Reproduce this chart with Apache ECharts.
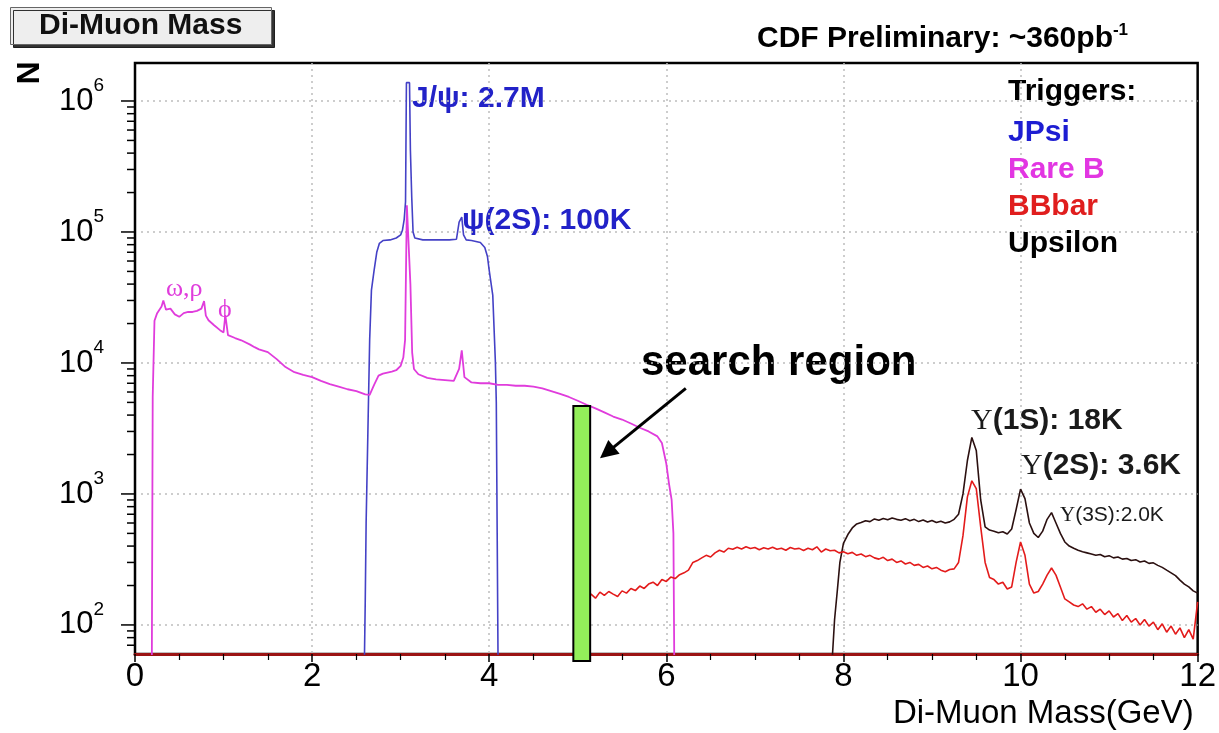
<!DOCTYPE html>
<html>
<head>
<meta charset="utf-8">
<script src="https://cdn.jsdelivr.net/npm/echarts@6/dist/echarts.min.js"></script>
<style>
html,body{margin:0;padding:0;background:#fff;}
#chart{width:1219px;height:733px;}
</style>
</head>
<body>
<div id="chart"></div>
<script>
// ---- data (mass in GeV, counts per bin) ----
var rareB = [[0.19,50],[0.20,5500],[0.21,5500],[0.22,21000],[0.25,24000],[0.30,27000],[0.32,30000],[0.35,25500],[0.40,26000],[0.45,23500],[0.50,22500],[0.55,24000],[0.60,24500],[0.65,24500],[0.70,25000],[0.75,26000],[0.78,29700],[0.80,23000],[0.83,21200],[0.89,19500],[0.96,17800],[1.00,17100],[1.02,23200],[1.05,16300],[1.13,15500],[1.20,14900],[1.30,13800],[1.35,13200],[1.40,12700],[1.50,12100],[1.60,10700],[1.70,9300],[1.80,8500],[1.90,8100],[2.00,7800],[2.10,7300],[2.20,6900],[2.30,6600],[2.40,6300],[2.50,6100],[2.60,5750],[2.65,5700],[2.70,6800],[2.75,8000],[2.80,8300],[2.90,8600],[2.95,8800],[3.00,9500],[3.03,11000],[3.05,15000],[3.07,160000],[3.09,160000],[3.11,40000],[3.13,12000],[3.15,9000],[3.20,8200],[3.30,7700],[3.40,7500],[3.50,7400],[3.60,7300],[3.66,9000],[3.69,12500],[3.72,7800],[3.80,7100],[3.90,7000],[4.00,7000],[4.10,6800],[4.20,6800],[4.30,6700],[4.40,6700],[4.50,6600],[4.60,6400],[4.70,6100],[4.80,5800],[4.90,5500],[5.00,5150],[5.10,4800],[5.20,4500],[5.30,4200],[5.40,3900],[5.50,3700],[5.60,3450],[5.70,3200],[5.80,3000],[5.90,2750],[5.95,2450],[6.00,1700],[6.03,1200],[6.06,900],[6.08,500],[6.09,50]];

var jpsi = [[2.59,50],[2.60,150],[2.61,600],[2.63,3000],[2.65,15000],[2.67,36000],[2.70,51000],[2.73,70000],[2.76,82000],[2.80,86000],[2.88,87000],[2.95,90000],[3.00,95000],[3.02,103000],[3.04,125000],[3.055,170000],[3.065,1380000],[3.10,1380000],[3.11,420000],[3.125,185000],[3.14,100000],[3.16,90000],[3.25,87000],[3.40,87000],[3.55,87000],[3.63,88000],[3.66,119000],[3.69,130000],[3.71,95000],[3.74,87000],[3.80,86000],[3.90,83000],[3.95,76000],[3.98,65000],[4.00,51000],[4.04,33000],[4.07,10000],[4.08,5000],[4.09,500],[4.10,50]];

var bbbar = [[4.99,50],[5.00,160],[5.05,170],[5.10,158],[5.15,172],[5.20,160],[5.25,178],[5.30,168],[5.35,180],[5.40,172],[5.45,165],[5.50,182],[5.55,175],[5.60,190],[5.65,183],[5.70,198],[5.75,190],[5.80,205],[5.85,212],[5.90,200],[5.95,222],[6.00,215],[6.05,232],[6.10,226],[6.15,242],[6.20,250],[6.25,262],[6.30,300],[6.35,310],[6.40,325],[6.45,340],[6.50,330],[6.55,355],[6.60,372],[6.65,360],[6.70,385],[6.75,378],[6.80,392],[6.85,380],[6.90,395],[6.95,383],[7.00,390],[7.05,375],[7.10,388],[7.15,380],[7.20,392],[7.25,378],[7.30,385],[7.35,372],[7.40,390],[7.45,380],[7.50,384],[7.55,370],[7.60,385],[7.65,375],[7.70,395],[7.75,360],[7.80,380],[7.85,368],[7.90,372],[7.95,355],[8.00,362],[8.05,350],[8.10,358],[8.15,340],[8.20,348],[8.25,332],[8.30,340],[8.35,325],[8.40,318],[8.45,328],[8.50,310],[8.55,318],[8.60,300],[8.65,308],[8.70,292],[8.75,300],[8.80,285],[8.85,290],[8.90,275],[8.95,282],[9.00,268],[9.05,275],[9.10,262],[9.15,255],[9.20,265],[9.25,268],[9.30,300],[9.35,480],[9.40,950],[9.45,1260],[9.50,1100],[9.55,560],[9.60,300],[9.65,230],[9.70,222],[9.75,205],[9.80,212],[9.85,188],[9.90,195],[9.95,300],[10.00,430],[10.05,340],[10.10,205],[10.15,175],[10.20,180],[10.25,205],[10.30,240],[10.35,272],[10.40,240],[10.45,195],[10.50,158],[10.55,150],[10.60,142],[10.65,138],[10.70,145],[10.75,132],[10.80,138],[10.85,125],[10.90,132],[10.95,120],[11.00,128],[11.05,115],[11.10,122],[11.15,108],[11.20,118],[11.25,105],[11.30,112],[11.35,100],[11.40,110],[11.45,98],[11.50,105],[11.55,92],[11.60,102],[11.65,88],[11.70,98],[11.75,85],[11.80,95],[11.85,80],[11.90,92],[11.95,78],[12.00,150]];

var upsilon = [[7.87,50],[7.90,110],[7.93,180],[7.96,300],[8.00,420],[8.05,490],[8.10,550],[8.15,590],[8.20,605],[8.25,625],[8.30,615],[8.35,645],[8.40,630],[8.45,650],[8.50,635],[8.55,655],[8.60,640],[8.65,630],[8.70,648],[8.75,625],[8.80,640],[8.85,615],[8.90,632],[8.95,610],[9.00,628],[9.05,605],[9.10,620],[9.15,600],[9.20,612],[9.25,640],[9.30,700],[9.35,1000],[9.40,1800],[9.45,2700],[9.50,2150],[9.55,900],[9.60,560],[9.65,530],[9.70,520],[9.75,505],[9.80,515],[9.85,495],[9.90,540],[9.95,760],[10.00,1090],[10.05,920],[10.10,600],[10.15,500],[10.20,465],[10.25,520],[10.30,640],[10.35,720],[10.40,600],[10.45,500],[10.50,430],[10.55,400],[10.60,385],[10.65,372],[10.70,362],[10.75,355],[10.80,348],[10.85,340],[10.90,345],[10.95,332],[11.00,338],[11.05,325],[11.10,330],[11.15,318],[11.20,322],[11.25,310],[11.30,315],[11.35,302],[11.40,308],[11.45,295],[11.50,298],[11.55,285],[11.60,275],[11.65,262],[11.70,250],[11.75,238],[11.80,220],[11.85,205],[11.90,195],[11.95,182],[12.00,175]];

// search region band: [mass from, mass to, top count]
var searchRegion = [[4.95, 5.14, 4700]];
// arrow: from / to (mass, count)
var arrowFrom = [6.22, 6400];
var arrowTo = [5.33, 2070];

// axis definition
var xMin = 0, xMax = 12, xStep = 2;
var yMin = 60, yMax = 1.95e6;
var yMajorTicks = [100, 1000, 10000, 100000, 1000000];
var yMinorTicks = [70, 80, 90,
  200, 300, 400, 500, 600, 700, 800, 900,
  2000, 3000, 4000, 5000, 6000, 7000, 8000, 9000,
  20000, 30000, 40000, 50000, 60000, 70000, 80000, 90000,
  200000, 300000, 400000, 500000, 600000, 700000, 800000, 900000];

var FONT = '"Liberation Sans", Arial, Helvetica, sans-serif';
var SERIF = '"Liberation Serif", "Times New Roman", serif';

var chart = echarts.init(document.getElementById('chart'), null, {renderer: 'canvas'});

function tickSeries(name, ticks, len) {
  return {
    name: name, type: 'custom', silent: true, clip: false, z: 10,
    data: ticks.map(function (v) { return [xMin, v]; }),
    renderItem: function (params, api) {
      var p = api.coord([api.value(0), api.value(1)]);
      return {type: 'line', shape: {x1: p[0] - len, y1: p[1], x2: p[0], y2: p[1]},
        style: {stroke: '#000', lineWidth: 1.5}};
    }
  };
}

var dotted = {color: '#bdbdbd', type: [2, 4], width: 1.5};

var option = {
  animation: false,
  backgroundColor: '#ffffff',
  textStyle: {fontFamily: FONT},
  title: {
    text: 'Di-Muon Mass', left: 10, top: 7,
    padding: [2, 29],
    backgroundColor: '#eeeeee', borderColor: '#666', borderWidth: 1,
    shadowColor: 'rgba(0,0,0,0.8)', shadowOffsetX: 3, shadowOffsetY: 3, shadowBlur: 0,
    textStyle: {fontFamily: FONT, fontSize: 30, fontWeight: 'bold', color: '#111', lineHeight: 34}
  },
  legend: {
    orient: 'vertical', left: 998, top: 109,
    icon: 'none', itemWidth: 0, itemHeight: 0, itemGap: 0,
    selectedMode: false,
    textStyle: {fontFamily: FONT, fontSize: 30, fontWeight: 'bold', lineHeight: 37},
    data: [
      {name: 'JPsi', textStyle: {color: '#1d1dd2'}},
      {name: 'Rare B', textStyle: {color: '#e236e2'}},
      {name: 'BBbar', textStyle: {color: '#e01e1e'}},
      {name: 'Upsilon', textStyle: {color: '#000000'}}
    ]
  },
  grid: {left: 135, right: 20, top: 63, bottom: 79, show: true, borderColor: '#000', borderWidth: 2.5},
  xAxis: {
    type: 'value', min: xMin, max: xMax, interval: xStep,
    axisLine: {show: true, onZero: false, lineStyle: {color: '#9b1414', width: 3}},
    axisTick: {show: true, length: 8, lineStyle: {color: '#000', width: 1.5}},
    minorTick: {show: true, splitNumber: 4, length: 6, lineStyle: {color: '#000', width: 1.2}},
    splitLine: {show: true, showMinLine: false, showMaxLine: false, lineStyle: dotted},
    axisLabel: {fontFamily: FONT, fontSize: 33, color: '#000', margin: 6},
    name: 'Di-Muon Mass(GeV)', nameLocation: 'end', nameGap: -4,
    nameTextStyle: {fontFamily: FONT, fontSize: 33, color: '#000', align: 'right', verticalAlign: 'top', padding: [43, 0, 0, 0]}
  },
  yAxis: {
    type: 'log', logBase: 10, min: yMin, max: yMax,
    axisLine: {show: true, lineStyle: {color: '#000', width: 2}},
    axisTick: {show: false},
    minorTick: {show: false},
    splitLine: {show: true, showMinLine: false, showMaxLine: false, lineStyle: dotted},
    axisLabel: {
      margin: 31, color: '#000',
      formatter: function (v) {
        var e = Math.log(v) / Math.LN10;
        if (Math.abs(e - Math.round(e)) < 1e-6) return '{b|10}{s|' + Math.round(e) + '}';
        return '';
      },
      rich: {
        b: {fontFamily: FONT, fontSize: 31, color: '#000', lineHeight: 50},
        s: {fontFamily: FONT, fontSize: 19, color: '#000', verticalAlign: 'top', lineHeight: 19}
      }
    }
  },
  series: [
    {name: 'JPsi', type: 'line', data: jpsi, symbol: 'none', showSymbol: false, z: 3,
     lineStyle: {color: '#4441c6', width: 1.6}, itemStyle: {color: '#4441c6'}},
    {name: 'Rare B', type: 'line', data: rareB, symbol: 'none', showSymbol: false, z: 4,
     lineStyle: {color: '#e03cdc', width: 1.8}, itemStyle: {color: '#e03cdc'}},
    {name: 'Upsilon', type: 'line', data: upsilon, symbol: 'none', showSymbol: false, z: 3,
     lineStyle: {color: '#2b1010', width: 1.6}, itemStyle: {color: '#2b1010'}},
    {name: 'BBbar', type: 'line', data: bbbar, symbol: 'none', showSymbol: false, z: 4,
     lineStyle: {color: '#e31b1b', width: 1.6}, itemStyle: {color: '#e31b1b'},
     markLine: {
       silent: true, symbol: ['none', 'triangle'], symbolSize: 18, animation: false,
       label: {show: false},
       lineStyle: {color: '#000', width: 3, type: 'solid'},
       itemStyle: {color: '#000'},
       emphasis: {disabled: true},
       data: [[{coord: arrowFrom}, {coord: arrowTo}]]
     }},
    {name: 'search region', type: 'custom', silent: true, clip: false, z: 8,
     data: searchRegion,
     encode: {x: [0, 1], y: 2},
     renderItem: function (params, api) {
       var a = api.coord([api.value(0), api.value(2)]);
       var b = api.coord([api.value(1), yMin]);
       return {type: 'rect', shape: {x: a[0], y: a[1], width: b[0] - a[0], height: b[1] - a[1] + 7},
         style: {fill: '#93ee5a', stroke: '#000', lineWidth: 2}};
     }},
    tickSeries('yMajorTicks', yMajorTicks, 14),
    tickSeries('yMinorTicks', yMinorTicks, 8)
  ],
  graphic: [
    {type: 'text', x: 30, y: 73, rotation: Math.PI / 2,
     style: {text: 'N', fontFamily: FONT, fontSize: 32, fontWeight: 'bold', fill: '#000', align: 'center', verticalAlign: 'middle'}},
    {type: 'text', x: 757, y: 39,
     style: {text: '{m|CDF Preliminary: ~360pb}{s|-1}', verticalAlign: 'middle',
       rich: {m: {fontFamily: FONT, fontSize: 30, fontWeight: 'bold', fill: '#000', lineHeight: 34},
              s: {fontFamily: FONT, fontSize: 17, fontWeight: 'bold', fill: '#000', verticalAlign: 'top', lineHeight: 17}}}},
    {type: 'text', x: 1008, y: 92,
     style: {text: 'Triggers:', fontFamily: FONT, fontSize: 30, fontWeight: 'bold', fill: '#000', verticalAlign: 'middle'}},
    {type: 'text', x: 412, y: 99,
     style: {text: 'J/ψ: 2.7M', fontFamily: FONT, fontSize: 30, fontWeight: 'bold', fill: '#2222c8', verticalAlign: 'middle'}},
    {type: 'text', x: 462, y: 221,
     style: {text: 'ψ(2S): 100K', fontFamily: FONT, fontSize: 30, fontWeight: 'bold', fill: '#2222c8', verticalAlign: 'middle'}},
    {type: 'text', x: 166, y: 289,
     style: {text: 'ω,ρ', fontFamily: SERIF, fontSize: 26, fill: '#e03cdc', verticalAlign: 'middle'}},
    {type: 'text', x: 218, y: 310,
     style: {text: '\u03D5', fontFamily: SERIF, fontSize: 26, fill: '#e03cdc', verticalAlign: 'middle'}},
    {type: 'text', x: 641, y: 363,
     style: {text: 'search region', fontFamily: FONT, fontSize: 42, fontWeight: 'bold', fill: '#000', verticalAlign: 'middle'}},
    {type: 'text', x: 971, y: 421,
     style: {text: '{g|Υ}{t|(1S): 18K}', verticalAlign: 'middle',
       rich: {g: {fontFamily: SERIF, fontSize: 30, fill: '#1a1a1a'}, t: {fontFamily: FONT, fontSize: 30, fontWeight: 'bold', fill: '#1a1a1a'}}}},
    {type: 'text', x: 1021, y: 466,
     style: {text: '{g|Υ}{t|(2S): 3.6K}', verticalAlign: 'middle',
       rich: {g: {fontFamily: SERIF, fontSize: 30, fill: '#1a1a1a'}, t: {fontFamily: FONT, fontSize: 30, fontWeight: 'bold', fill: '#1a1a1a'}}}},
    {type: 'text', x: 1060, y: 515,
     style: {text: '{g|Υ}{t|(3S):2.0K}', verticalAlign: 'middle',
       rich: {g: {fontFamily: SERIF, fontSize: 21, fill: '#1a1a1a'}, t: {fontFamily: FONT, fontSize: 21, fill: '#1a1a1a'}}}}
  ]
};

chart.setOption(option);
</script>
</body>
</html>
